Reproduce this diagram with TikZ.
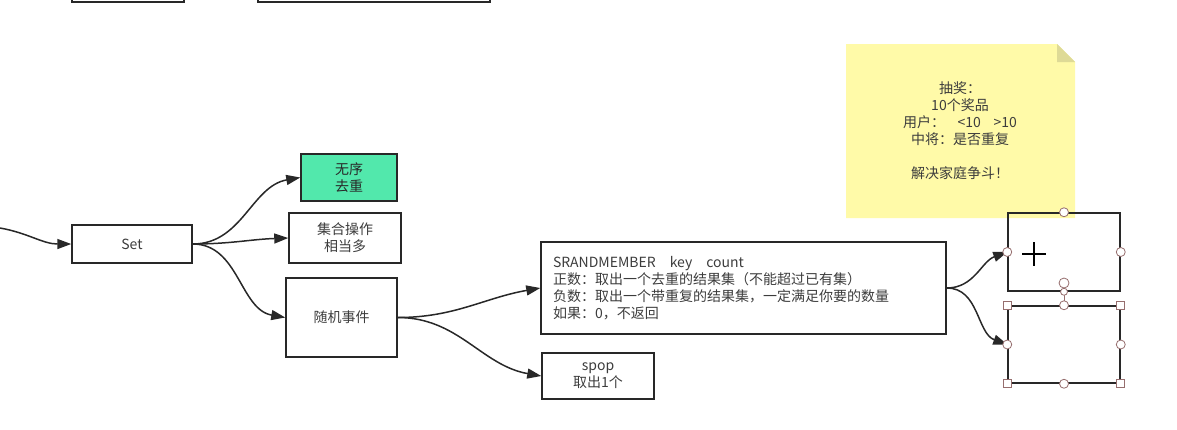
\documentclass[tikz,border=0pt]{standalone}
\usepackage{fontspec}
\setmainfont{Noto Sans CJK SC}
\usetikzlibrary{arrows.meta,calc}
\definecolor{ink}{RGB}{40,40,40}
\definecolor{txt}{RGB}{60,60,60}
\definecolor{mint}{RGB}{82,232,172}
\definecolor{notey}{RGB}{255,250,168}
\definecolor{foldy}{RGB}{222,218,150}
\definecolor{hdl}{RGB}{150,110,110}
\tikzset{
  boxn/.style={draw=ink, line width=1.5pt, rectangle, inner sep=0pt, align=center,
    font=\fontsize{14}{17}\selectfont, text=txt},
  conn/.style={draw=ink, line width=1.5pt, -{Triangle[length=14pt,width=10pt]}},
  hcirc/.style={draw=hdl, fill=white, line width=0.8pt},
  hsq/.style={draw=hdl, fill=white, line width=0.8pt},
}
\begin{document}
\begin{tikzpicture}[x=1pt,y=1pt]
\useasboundingbox (0,0) rectangle (1177,-429);
\clip (0,0) rectangle (1177,-429);
% partially visible boxes at the top
\draw[ink, line width=1.5pt] (72,10) rectangle (184,-2);
\draw[ink, line width=1.5pt] (258,10) rectangle (490,-2);
% sticky note
\fill[notey] (846,-44) -- (1057,-44) -- (1075,-62) -- (1075,-218) -- (846,-218) -- cycle;
\fill[foldy] (1057,-44) -- (1075,-62) -- (1057,-62) -- cycle;
\node[font=\fontsize{14}{17}\selectfont, text=txt, align=center] (note) at (960,-130.5)
  {抽奖：\\10个奖品\\用户：\ \ \ \ <10\ \ \ \ >10\\中将：是否重复\\[17pt]解决家庭争斗！};
% nodes
\coordinate (src) at (0,-228);
\node[boxn, minimum width=120pt, minimum height=38pt] (set) at (132,-244) {Set};
\node[boxn, fill=mint, minimum width=96pt, minimum height=47pt, text=ink] (wuxu) at (349,-177.5) {无序\\去重};
\node[boxn, minimum width=112pt, minimum height=50pt] (jihe) at (345,-238) {集合操作\\相当多};
\node[boxn, minimum width=111pt, minimum height=79pt] (suiji) at (341.5,-317.5) {随机事件};
\node[boxn, minimum width=405pt, minimum height=92pt, align=left, text width=381pt, inner xsep=12pt] (srand) at (743.5,-288)
  {SRANDMEMBER\ \ \ key\ \ \ count\\正数：取出一个去重的结果集（不能超过已有集）\\负数：取出一个带重复的结果集，一定满足你要的数量\\如果：0，不返回};
\node[boxn, minimum width=112pt, minimum height=46pt] (spop) at (598,-376) {spop\\取出1个};
\node[boxn, minimum width=112pt, minimum height=78pt] (b1) at (1064,-252) {};
\node[boxn, minimum width=112pt, minimum height=77pt] (b2) at (1064,-344.5) {};
% connectors
\draw[conn] (src) to[out=-10,in=180] (set.west);
\draw[conn] (set.east) to[out=0,in=190] (wuxu.west);
\draw[conn] (set.east) to[out=0,in=182] (jihe.west);
\draw[conn] (set.east) to[out=0,in=170] (suiji.west);
\draw[conn] (suiji.east) to[out=0,in=190] (srand.west);
\draw[conn] (suiji.east) to[out=0,in=170] (spop.west);
\draw[conn] (srand.east) to[out=0,in=200] (b1.west);
\draw[conn] (srand.east) to[out=0,in=160] (b2.west);
% selection handles
\draw[hdl, line width=0.8pt] (b1.south) -- (b2.north);
\draw[hcirc] (b1.north) circle (4.5pt);
\draw[hcirc] (b1.west) circle (4.5pt);
\draw[hcirc] (b1.east) circle (4.5pt);
\draw[hcirc] (1064,-283) circle (5pt);
\draw[hcirc] (b1.south) circle (3.5pt);
\foreach \a in {north,west,east,south} \draw[hcirc] (b2.\a) circle (4.5pt);
\foreach \a in {north west,north east,south west,south east}
  \draw[hsq] ($(b2.\a)+(-4,-4)$) rectangle ($(b2.\a)+(4,4)$);
% cursor
\draw[black, line width=1.6pt] (1022,-254) -- (1046,-254) (1034,-242) -- (1034,-266);
\end{tikzpicture}
\end{document}
